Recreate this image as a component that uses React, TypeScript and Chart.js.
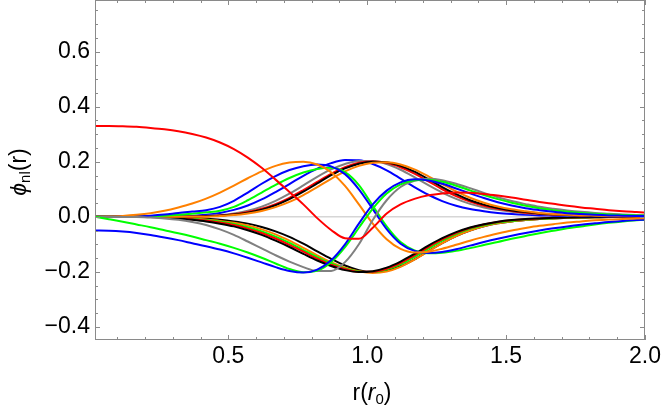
import { useEffect, useRef } from "react";
import Chart from "chart.js/auto";

// sample positions r (in r0)
const X = [0.02,0.07,0.12,0.17,0.22,0.27,0.32,0.37,0.42,0.47,0.52,0.57,0.62,0.67,0.72,0.77,0.82,0.87,0.92,0.97,1.02,1.07,1.12,1.17,1.22,1.27,1.32,1.37,1.42,1.47,1.52,1.57,1.62,1.67,1.72,1.77,1.82,1.87,1.92,1.97,2.02];

const redS = [0.33,0.33,0.329,0.327,0.323,0.318,0.311,0.301,0.288,0.27,0.246,0.215,0.178,0.135,0.09,0.045,-0.005,-0.048,-0.078,-0.08,-0.04,0.012,0.045,0.065,0.078,0.085,0.088,0.087,0.083,0.077,0.07,0.062,0.054,0.047,0.04,0.034,0.029,0.024,0.02,0.017,0.014];
const blueS = [-0.05,-0.051,-0.054,-0.059,-0.066,-0.075,-0.085,-0.096,-0.107,-0.119,-0.133,-0.149,-0.166,-0.183,-0.197,-0.203,-0.192,-0.158,-0.1,-0.025,0.045,0.095,0.125,0.136,0.132,0.12,0.103,0.085,0.068,0.053,0.041,0.031,0.024,0.018,0.013,0.01,0.007,0.005,0.004,0.003,0.002];
const greenP = [0,-0.009,-0.018,-0.028,-0.038,-0.049,-0.06,-0.072,-0.085,-0.098,-0.113,-0.13,-0.149,-0.17,-0.19,-0.202,-0.196,-0.165,-0.11,-0.04,0.03,0.085,0.118,0.133,0.135,0.127,0.113,0.096,0.079,0.064,0.051,0.04,0.031,0.024,0.018,0.014,0.011,0.008,0.006,0.005,0.004];
const grayD = [0,0,-0.001,-0.001,-0.003,-0.006,-0.011,-0.019,-0.03,-0.046,-0.066,-0.09,-0.115,-0.14,-0.163,-0.183,-0.197,-0.197,-0.165,-0.1,-0.012,0.06,0.108,0.131,0.138,0.133,0.12,0.104,0.087,0.071,0.057,0.046,0.036,0.029,0.023,0.018,0.014,0.011,0.008,0.006,0.005];
const orange1 = [0,0.001,0.003,0.007,0.013,0.022,0.034,0.048,0.066,0.088,0.113,0.14,0.165,0.185,0.197,0.2,0.19,0.162,0.112,0.045,-0.025,-0.082,-0.117,-0.13,-0.127,-0.116,-0.102,-0.087,-0.073,-0.061,-0.05,-0.041,-0.033,-0.027,-0.021,-0.017,-0.013,-0.01,-0.008,-0.006,-0.005];
const blue1 = [0,0,0.001,0.002,0.004,0.008,0.014,0.019,0.024,0.036,0.058,0.088,0.12,0.148,0.17,0.184,0.19,0.183,0.155,0.1,0.028,-0.045,-0.098,-0.124,-0.132,-0.128,-0.118,-0.105,-0.092,-0.08,-0.069,-0.059,-0.05,-0.042,-0.035,-0.029,-0.024,-0.019,-0.015,-0.012,-0.009];
const green1 = [0,0,0,0.001,0.002,0.004,0.007,0.011,0.016,0.022,0.036,0.06,0.088,0.116,0.141,0.161,0.174,0.178,0.162,0.115,0.04,-0.035,-0.092,-0.122,-0.133,-0.131,-0.124,-0.114,-0.103,-0.092,-0.08,-0.07,-0.06,-0.051,-0.042,-0.035,-0.028,-0.022,-0.017,-0.013,-0.01];
const blueN = [0,0,0,0,0,0,0.001,0.003,0.007,0.014,0.025,0.041,0.063,0.09,0.119,0.149,0.175,0.195,0.206,0.205,0.192,0.169,0.139,0.108,0.08,0.057,0.04,0.028,0.02,0.014,0.01,0.007,0.005,0.004,0.003,0.002,0.002,0.001,0.001,0.001,0.001];
const grayN = [0,0,0,0,0,0,0,0.001,0.003,0.006,0.012,0.022,0.037,0.058,0.084,0.114,0.145,0.172,0.192,0.203,0.203,0.192,0.171,0.144,0.115,0.088,0.065,0.047,0.034,0.025,0.018,0.013,0.01,0.007,0.005,0.004,0.003,0.002,0.002,0.001,0.001];
const redN = [0,0,0,0,0,0,0,0.001,0.002,0.005,0.009,0.017,0.029,0.046,0.069,0.097,0.127,0.156,0.18,0.196,0.201,0.196,0.18,0.157,0.129,0.1,0.075,0.055,0.04,0.029,0.021,0.015,0.011,0.008,0.006,0.004,0.003,0.002,0.002,0.001,0.001];
const blackN = [0,0,0,0,0,0,0,0,0.002,0.004,0.008,0.015,0.026,0.042,0.064,0.091,0.121,0.151,0.176,0.193,0.2,0.198,0.185,0.164,0.137,0.108,0.082,0.06,0.044,0.032,0.023,0.017,0.012,0.009,0.006,0.005,0.003,0.002,0.002,0.001,0.001];
const orangeN = [0,0,0,0,0,0,0,0,0,0.003,0.006,0.012,0.021,0.035,0.054,0.079,0.108,0.138,0.165,0.185,0.196,0.198,0.19,0.172,0.147,0.119,0.092,0.069,0.051,0.037,0.027,0.02,0.014,0.01,0.007,0.005,0.004,0.003,0.002,0.001,0.001];
const blackM1 = [0,0,0,0,0,0,-0.002,-0.004,-0.007,-0.011,-0.017,-0.025,-0.037,-0.053,-0.073,-0.098,-0.126,-0.153,-0.177,-0.194,-0.201,-0.196,-0.18,-0.155,-0.125,-0.096,-0.07,-0.05,-0.035,-0.024,-0.017,-0.012,-0.008,-0.006,-0.004,-0.003,-0.002,-0.001,-0.001,-0.001,0];
const orangeM = [0,0,0,0,0,-0.001,-0.003,-0.006,-0.01,-0.015,-0.022,-0.032,-0.046,-0.064,-0.087,-0.113,-0.14,-0.165,-0.185,-0.198,-0.204,-0.199,-0.182,-0.156,-0.126,-0.096,-0.07,-0.05,-0.035,-0.024,-0.017,-0.012,-0.008,-0.006,-0.004,-0.003,-0.002,-0.001,-0.001,-0.001,0];
const greenM = [0,0,0,0,0,-0.002,-0.004,-0.007,-0.012,-0.018,-0.026,-0.038,-0.053,-0.072,-0.095,-0.121,-0.147,-0.17,-0.188,-0.199,-0.201,-0.192,-0.173,-0.146,-0.116,-0.087,-0.063,-0.044,-0.031,-0.021,-0.015,-0.01,-0.007,-0.005,-0.004,-0.003,-0.002,-0.001,-0.001,-0.001,0];
const redM = [0,0,0,0,-0.001,-0.002,-0.005,-0.009,-0.014,-0.021,-0.03,-0.043,-0.059,-0.079,-0.102,-0.127,-0.152,-0.174,-0.19,-0.2,-0.2,-0.189,-0.168,-0.14,-0.11,-0.082,-0.059,-0.041,-0.028,-0.019,-0.013,-0.009,-0.006,-0.004,-0.003,-0.002,-0.002,-0.001,-0.001,0,0];
const blackM2 = [0,0,0,0,-0.001,-0.003,-0.006,-0.011,-0.017,-0.025,-0.035,-0.049,-0.066,-0.087,-0.11,-0.135,-0.159,-0.179,-0.194,-0.201,-0.198,-0.185,-0.163,-0.135,-0.105,-0.078,-0.056,-0.039,-0.027,-0.018,-0.012,-0.008,-0.006,-0.004,-0.003,-0.002,-0.001,-0.001,-0.001,0,0];

const X_TICKS = [0.5, 1.0, 1.5, 2.0];
const Y_TICKS = [-0.4, -0.2, 0.0, 0.2, 0.4, 0.6];
const X_MIN = 0.02, X_MAX = 2.0, Y_MIN = -0.448, Y_MAX = 0.788;

const RED = "#ff0000", BLUE = "#0000ff", GREEN = "#00ff00", ORANGE = "#ff8000", GRAY = "#808080", BLACK = "#000000";

// first = drawn on top
const SERIES: [number[], string][] = [
  [redS, RED],
  [blueS, BLUE],
  [greenP, GREEN],
  [grayD, GRAY],
  [orange1, ORANGE],
  [blue1, BLUE],
  [green1, GREEN],
  [orangeN, ORANGE],
  [blackN, BLACK],
  [redN, RED],
  [grayN, GRAY],
  [blueN, BLUE],
  [blackM2, BLACK],
  [redM, RED],
  [greenM, GREEN],
  [orangeM, ORANGE],
  [blackM1, BLACK],
];

const FONT = "'Liberation Sans', Arial, sans-serif";
const fmt = (v: number) => v.toFixed(1).replace("-", "\u2212");

const framePlugin = {
  id: "mmaFrame",
  beforeDatasetsDraw(chart: any) {
    const { ctx, chartArea: a, scales } = chart;
    const y0 = scales.y.getPixelForValue(0);
    ctx.save();
    ctx.strokeStyle = "#d6d6d6";
    ctx.lineWidth = 1.5;
    ctx.beginPath();
    ctx.moveTo(a.left, y0);
    ctx.lineTo(a.right, y0);
    ctx.stroke();
    ctx.restore();
  },
  afterDraw(chart: any) {
    const { ctx, chartArea: a, scales } = chart;
    const xs = scales.x, ys = scales.y;
    ctx.save();
    ctx.strokeStyle = "#8a8a8a";
    ctx.lineWidth = 1;
    ctx.strokeRect(a.left + 0.5, a.top + 0.5, a.right - a.left - 1, a.bottom - a.top - 1);
    ctx.beginPath();
    for (let k = 1; k <= 20; k++) {
      const v = k / 10;
      const len = k % 5 === 0 ? 5 : 3;
      const px = Math.round(xs.getPixelForValue(v)) + 0.5;
      ctx.moveTo(px, a.bottom); ctx.lineTo(px, a.bottom - len);
      ctx.moveTo(px, a.top); ctx.lineTo(px, a.top + len);
    }
    for (let k = -8; k <= 15; k++) {
      const v = k * 0.05;
      const len = k % 4 === 0 ? 5 : 3;
      const py = Math.round(ys.getPixelForValue(v)) + 0.5;
      ctx.moveTo(a.left, py); ctx.lineTo(a.left + len, py);
      ctx.moveTo(a.right, py); ctx.lineTo(a.right - len, py);
    }
    ctx.stroke();

    // axis titles
    ctx.fillStyle = "#000";
    ctx.textBaseline = "alphabetic";
    const big = `23px ${FONT}`, bigI = `italic 23px ${FONT}`, small = `15px ${FONT}`;
    const drawRich = (parts: [string, string, number][], cx: number, cy: number, rot: boolean) => {
      let w = 0;
      for (const [t, f] of parts) { ctx.font = f; w += ctx.measureText(t).width; }
      ctx.save();
      ctx.translate(cx, cy);
      if (rot) ctx.rotate(-Math.PI / 2);
      let x = -w / 2;
      for (const [t, f, dy] of parts) {
        ctx.font = f;
        ctx.fillText(t, x, 8 + dy);
        x += ctx.measureText(t).width;
      }
      ctx.restore();
    };
    drawRich([["\u03d5", bigI, 0], ["nl", small, 4], ["(r)", big, 0]], 18, 172, true);
    drawRich([["r(", big, 0], ["r", bigI, 0], ["0", small, 4], [")", big, 0]], 372, 392, false);
    ctx.restore();
  },
};

export default function App() {
  const ref = useRef<HTMLCanvasElement>(null);
  useEffect(() => {
    const chart = new Chart(ref.current!, {
      type: "line",
      data: {
        datasets: SERIES.map(([vals, color]) => ({
          data: X.map((x, i) => ({ x, y: vals[i] })),
          borderColor: color,
          borderWidth: 2,
          pointRadius: 0,
          fill: false,
          cubicInterpolationMode: "monotone" as const,
        })),
      },
      options: {
        responsive: false,
        animation: false,
        devicePixelRatio: 1,
        layout: { padding: { left: 0, top: 0, right: 19, bottom: 0 } },
        plugins: { legend: { display: false }, tooltip: { enabled: false } },
        scales: {
          x: {
            type: "linear",
            min: X_MIN,
            max: X_MAX,
            afterBuildTicks: (s: any) => { s.ticks = X_TICKS.map((v) => ({ value: v })); },
            afterFit: (s: any) => { s.height = 70; s.paddingLeft = 0; s.paddingRight = 0; },
            grid: { display: false, drawTicks: false },
            border: { display: false },
            ticks: { callback: (v: any) => fmt(Number(v)), color: "#000", font: { family: FONT, size: 23 }, padding: 3, maxRotation: 0, autoSkip: false },
          },
          y: {
            type: "linear",
            min: Y_MIN,
            max: Y_MAX,
            afterBuildTicks: (s: any) => { s.ticks = Y_TICKS.map((v) => ({ value: v })); },
            afterFit: (s: any) => { s.width = 95; s.paddingTop = 0; s.paddingBottom = 0; },
            grid: { display: false, drawTicks: false },
            border: { display: false },
            ticks: { callback: (v: any) => fmt(Number(v)), color: "#000", font: { family: FONT, size: 23 }, padding: 5, autoSkip: false },
          },
        },
      },
      plugins: [framePlugin],
    });
    return () => chart.destroy();
  }, []);
  return (
    <div style={{ position: "absolute", left: 0, top: 0, width: 664, height: 410, background: "#fff" }}>
      <canvas ref={ref} width={664} height={410} style={{ display: "block" }} />
    </div>
  );
}
